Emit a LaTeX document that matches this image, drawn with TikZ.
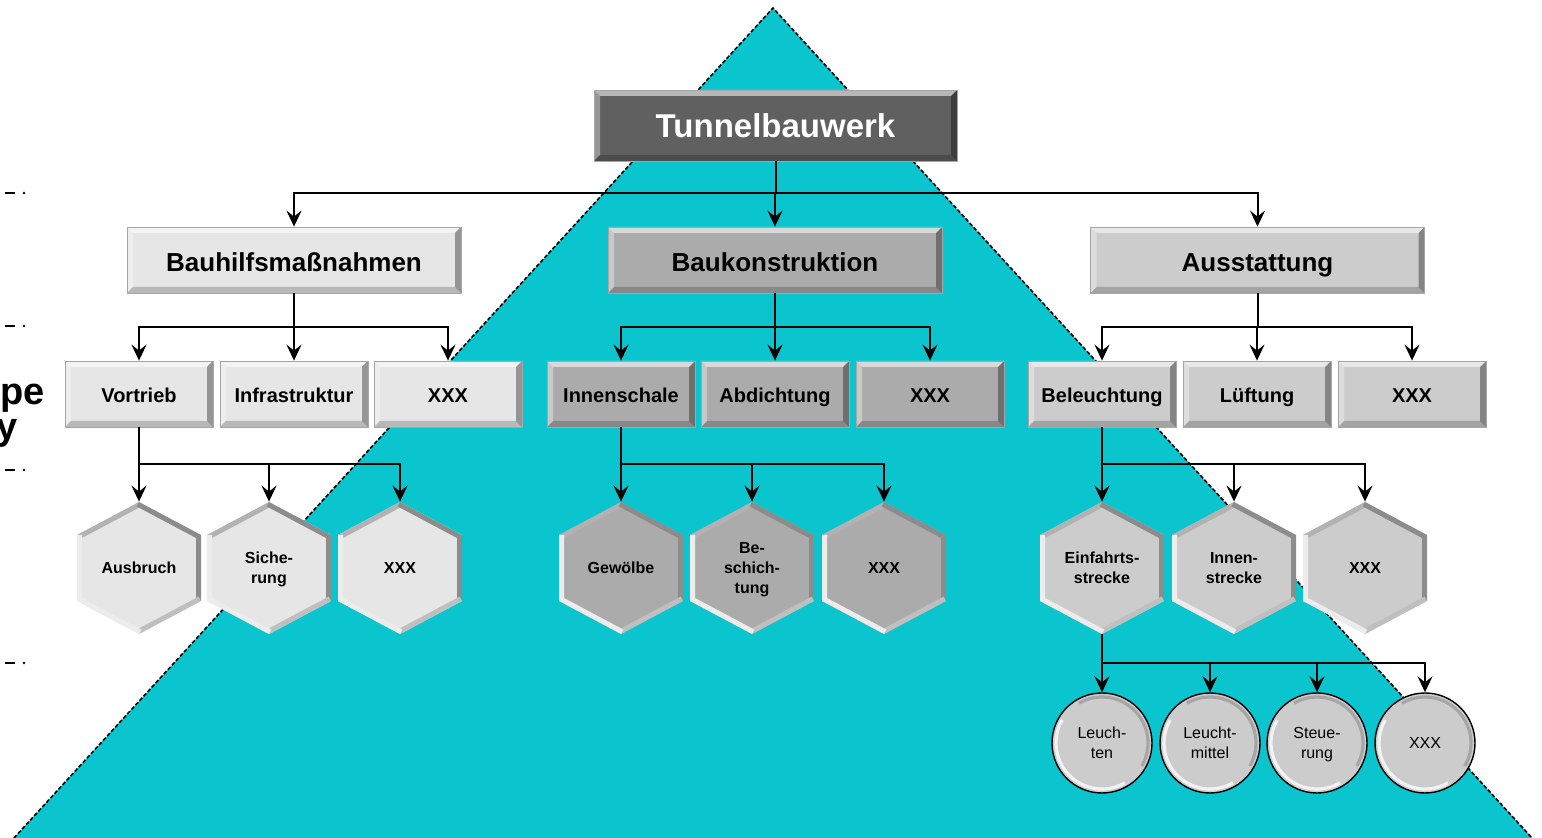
\documentclass[tikz,border=0pt]{standalone}
\usepackage{fontspec}
\setmainfont{Liberation Sans}
\usetikzlibrary{arrows.meta}

\definecolor{tricyan}{RGB}{11,197,206}
\definecolor{darkbox}{RGB}{96,96,96}
\definecolor{lightbox}{RGB}{230,230,230}
\definecolor{midbox}{RGB}{171,171,171}
\definecolor{greybox}{RGB}{204,204,204}

\tikzset{
  bevel/.style={path picture={
    \coordinate (bnw) at (path picture bounding box.north west);
    \coordinate (bne) at (path picture bounding box.north east);
    \coordinate (bsw) at (path picture bounding box.south west);
    \coordinate (bse) at (path picture bounding box.south east);
    \fill[white,opacity=.55] (bnw) -- (bne) -- ([shift={(-3pt,-3pt)}]bne) -- ([shift={(3pt,-3pt)}]bnw) -- cycle;
    \fill[white,opacity=.35] (bnw) -- (bsw) -- ([shift={(3pt,3pt)}]bsw) -- ([shift={(3pt,-3pt)}]bnw) -- cycle;
    \fill[black,opacity=.2] (bsw) -- (bse) -- ([shift={(-3pt,3pt)}]bse) -- ([shift={(3pt,3pt)}]bsw) -- cycle;
    \fill[black,opacity=.35] (bne) -- (bse) -- ([shift={(-3pt,3pt)}]bse) -- ([shift={(-3pt,-3pt)}]bne) -- cycle;
  }},
  box/.style={rectangle, draw=black!35, line width=0.4pt, bevel, inner sep=0pt,
    minimum height=33pt, text height=8.2pt, text depth=0pt,
    font=\bfseries\fontsize{10}{12}\selectfont},
  bigbox/.style={box, minimum width=167pt, text height=12pt, text depth=0pt,
    font=\bfseries\fontsize{13}{15}\selectfont},
  smallbox/.style={box, minimum width=74pt},
  topbox/.style={box, minimum width=181.5pt, minimum height=35.5pt, fill=darkbox,
    text=white, text height=11.8pt, text depth=0pt,
    font=\bfseries\fontsize{16.5}{19}\selectfont},
  hextext/.style={circle, minimum size=66pt, inner sep=0pt, align=center,
    text depth=0pt, font=\bfseries\fontsize{8}{10}\selectfont},
  circ/.style={circle, draw=black, line width=0.7pt, fill=greybox, minimum size=50pt,
    inner sep=0pt, align=center, text depth=0pt, font=\fontsize{8}{10}\selectfont,
    path picture={
    \draw[white!90!gray,line width=1.6pt] ([shift={(150:23pt)}]path picture bounding box.center)
      arc[start angle=150,end angle=300,radius=23pt];
    \draw[black!35,line width=1.6pt] ([shift={(330:23pt)}]path picture bounding box.center)
      arc[start angle=-30,end angle=120,radius=23pt];}},
  arr/.style={-{Stealth[length=8pt,width=7.5pt,inset=3pt]}, line width=1pt},
}

\newcommand{\hexnode}[5]{%
  \begin{scope}
    \clip (#2,#3-66) -- (#2+62,#3-33) -- (#2+62,#3+33) -- (#2,#3+66) -- (#2-62,#3+33) -- (#2-62,#3-33) -- cycle;
    \fill[#4] (#2-62,#3-66) rectangle (#2+62,#3+66);
    \draw[line width=5pt,black!30] (#2-62,#3-33) -- (#2,#3-66);
    \draw[line width=5pt,black!45] (#2,#3-66) -- (#2+62,#3-33) -- (#2+62,#3+33);
    \draw[line width=5pt,black!25] (#2+62,#3+33) -- (#2,#3+66);
    \draw[line width=5pt,white!85!gray] (#2,#3+66) -- (#2-62,#3+33) -- (#2-62,#3-33);
  \end{scope}
  \node[hextext] (#1) at (#2,#3) {#5};
}

\begin{document}
\begin{tikzpicture}[x=0.5pt,y=-0.5pt]
\useasboundingbox (0,0) rectangle (1542,838);

\fill[tricyan] (773,8) -- (14,838) -- (1532,838) -- cycle;
\draw[dashed,line width=0.8pt,dash pattern=on 2pt off 1pt] (14,838) -- (773,8) -- (1532,838);

\foreach \yy in {193,326,470,663} {
  \draw[line width=1pt] (5,\yy) -- (15,\yy);
  \fill (24,\yy) circle (0.7pt);
}
\node[anchor=base east, inner sep=0pt, font=\bfseries\fontsize{19}{22}\selectfont] (pe) at (45,405) {pe};
\node[anchor=base east, inner sep=0pt, font=\bfseries\fontsize{19}{22}\selectfont] (yy) at (18,440) {y};

\node[topbox] (tb) at (775.5,125.5) {Tunnelbauwerk};

\node[bigbox,fill=lightbox] (bhm) at (294,260) {Bauhilfsmaßnahmen};
\node[bigbox,fill=midbox] (bk) at (775,260) {Baukonstruktion};
\node[bigbox,fill=greybox] (aus) at (1257.5,260) {Ausstattung};

\node[smallbox,fill=lightbox] (vor) at (139,394) {Vortrieb};
\node[smallbox,fill=lightbox] (inf) at (294,394) {Infrastruktur};
\node[smallbox,fill=lightbox] (xa) at (448,394) {XXX};
\node[smallbox,fill=midbox] (inn) at (621,394) {Innenschale};
\node[smallbox,fill=midbox] (abd) at (775,394) {Abdichtung};
\node[smallbox,fill=midbox] (xb) at (930,394) {XXX};
\node[smallbox,fill=greybox] (bel) at (1102,394) {Beleuchtung};
\node[smallbox,fill=greybox] (lue) at (1257,394) {Lüftung};
\node[smallbox,fill=greybox] (xc) at (1412,394) {XXX};

\hexnode{aub}{139}{568}{lightbox}{Ausbruch}
\hexnode{sic}{269}{568}{lightbox}{Siche-\\rung}
\hexnode{xd}{400}{568}{lightbox}{XXX}
\hexnode{gew}{621}{568}{midbox}{Gewölbe}
\hexnode{bes}{752}{568}{midbox}{Be-\\schich-\\tung}
\hexnode{xe}{884}{568}{midbox}{XXX}
\hexnode{ein}{1102}{568}{greybox}{Einfahrts-\\strecke}
\hexnode{ist}{1234}{568}{greybox}{Innen-\\strecke}
\hexnode{xf}{1365}{568}{greybox}{XXX}

\node[circ] (leu) at (1102,743) {Leuch-\\ten};
\node[circ] (lmi) at (1210,743) {Leucht-\\mittel};
\node[circ] (ste) at (1317,743) {Steue-\\rung};
\node[circ] (xg) at (1425,743) {XXX};

\foreach \c in {bhm,bk,aus} \draw[arr] (tb.south) -- ++(0,32) -| (\c.north);
\foreach \c in {vor,inf,xa} \draw[arr] (bhm.south) -- ++(0,34) -| (\c.north);
\foreach \c in {inn,abd,xb} \draw[arr] (bk.south) -- ++(0,34) -| (\c.north);
\foreach \c in {bel,lue,xc} \draw[arr] (aus.south) -- ++(0,34) -| (\c.north);
\foreach \c in {aub,sic,xd} \draw[arr] (vor.south) -- ++(0,37) -| (\c.north);
\foreach \c in {gew,bes,xe} \draw[arr] (inn.south) -- ++(0,37) -| (\c.north);
\foreach \c in {ein,ist,xf} \draw[arr] (bel.south) -- ++(0,37) -| (\c.north);
\foreach \c in {leu,lmi,ste,xg} \draw[arr] (ein.south) -- ++(0,29) -| (\c.north);
\end{tikzpicture}
\end{document}
